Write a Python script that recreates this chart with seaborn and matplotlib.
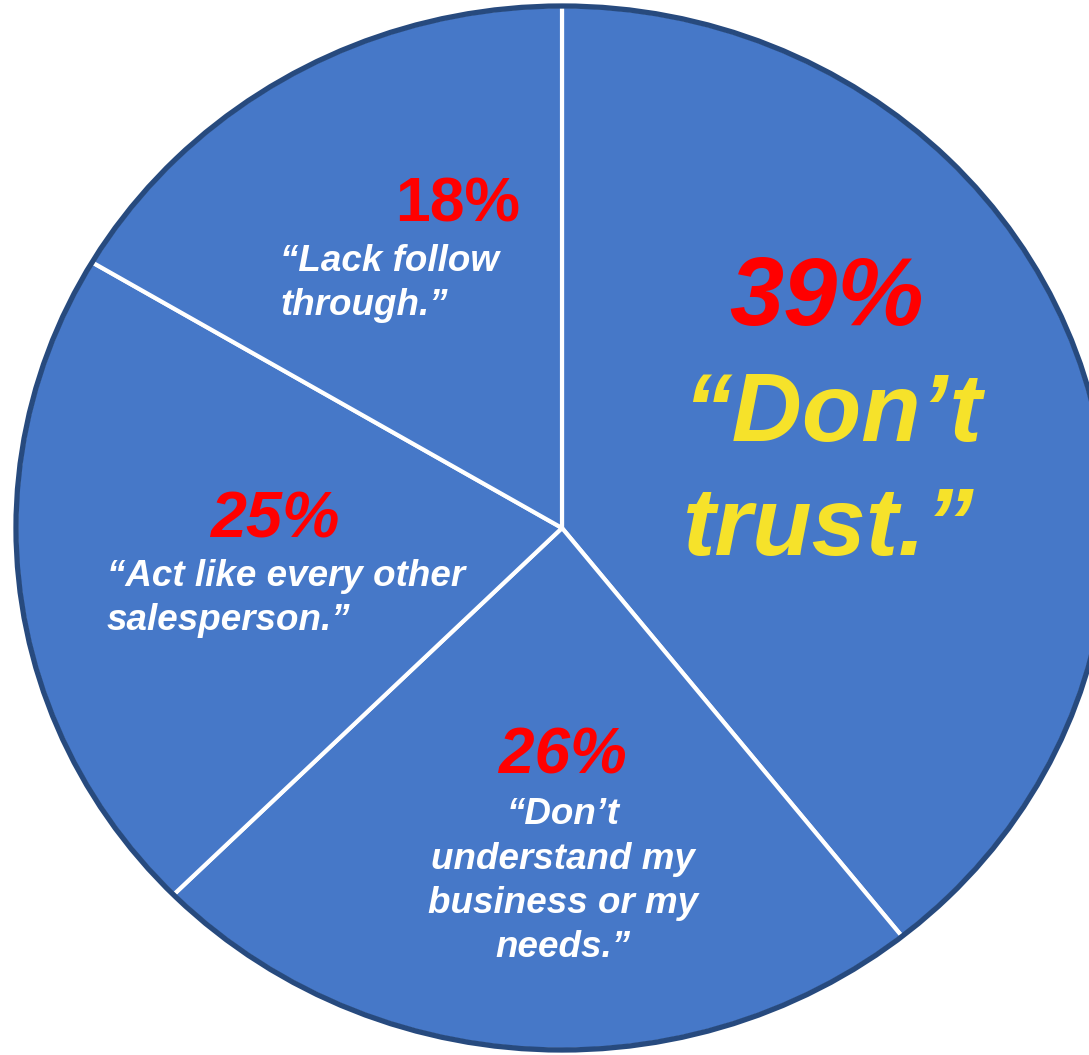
import matplotlib
matplotlib.use("Agg")
import matplotlib.pyplot as plt
import seaborn as sns
from matplotlib.patches import Circle

# ---- data ----
reasons = [
    "“Don’t\ntrust.”",
    "“Don’t\nunderstand my\nbusiness or my\nneeds.”",
    "“Act like every other\nsalesperson.”",
    "“Lack follow\nthrough.”",
]
percent_labels = ["39%", "26%", "25%", "18%"]
# angular share of each wedge as drawn in the picture (clockwise from 12 o'clock)
wedge_shares = [39.3, 23.3, 20.9, 16.5]

# ---- style ----
sns.set_theme(style="white")
plt.rcParams["font.family"] = ["Liberation Sans", "DejaVu Sans"]

W, H = 1089, 1055
fig = plt.figure(figsize=(W / 100, H / 100), dpi=100)
ax = fig.add_axes([0, 0, 1, 1])

fill = "#4678C8"
outline = "#274A7E"
red = "#FF0000"
yellow = "#F6E22A"

ax.pie(wedge_shares, startangle=90, counterclock=False, colors=[fill] * len(wedge_shares),
       wedgeprops=dict(edgecolor="white", linewidth=3.0, joinstyle="round"))
ax.add_patch(Circle((0, 0), 1.0, fill=False, ec=outline, lw=3.8))

# ellipse-shaped pie: centre at pixel (562, 528), rx 546 px, ry 522 px
cx, cy, rx, ry = 562, 528, 546, 522
ax.set_aspect("auto")
ax.set_xlim(-cx / rx, (W - cx) / rx)
ax.set_ylim(-(H - cy) / ry, cy / ry)
ax.axis("off")


def put(x, y, s, **kw):
    # y = baseline of the last line, in pixels from the top
    fig.text(x / W, 1 - y / H, s, va="baseline", **kw)


LS = 1.34
# 39% slice
put(827, 325, percent_labels[0], ha="center", color=red, fontsize=70, fontweight="bold", fontstyle="italic")
put(832, 555, reasons[0], ha="center", multialignment="left", color=yellow, fontsize=70,
    fontweight="bold", fontstyle="italic", linespacing=LS)
# 26% slice
put(563, 773, percent_labels[1], ha="center", color=red, fontsize=46, fontweight="bold", fontstyle="italic")
put(563, 957, reasons[1], ha="center", multialignment="center", color="white", fontsize=26.5,
    fontweight="bold", fontstyle="italic", linespacing=LS)
# 25% slice
put(275, 537, percent_labels[2], ha="center", color=red, fontsize=46.5, fontweight="bold", fontstyle="italic")
put(107, 630, reasons[2], ha="left", multialignment="left", color="white", fontsize=26.5,
    fontweight="bold", fontstyle="italic", linespacing=LS)
# 18% slice
put(458, 222, percent_labels[3], ha="center", color=red, fontsize=45, fontweight="bold")
put(280, 315, reasons[3], ha="left", multialignment="left", color="white", fontsize=26.5,
    fontweight="bold", fontstyle="italic", linespacing=LS)

fig.savefig("out.png", dpi=100, facecolor="white")
